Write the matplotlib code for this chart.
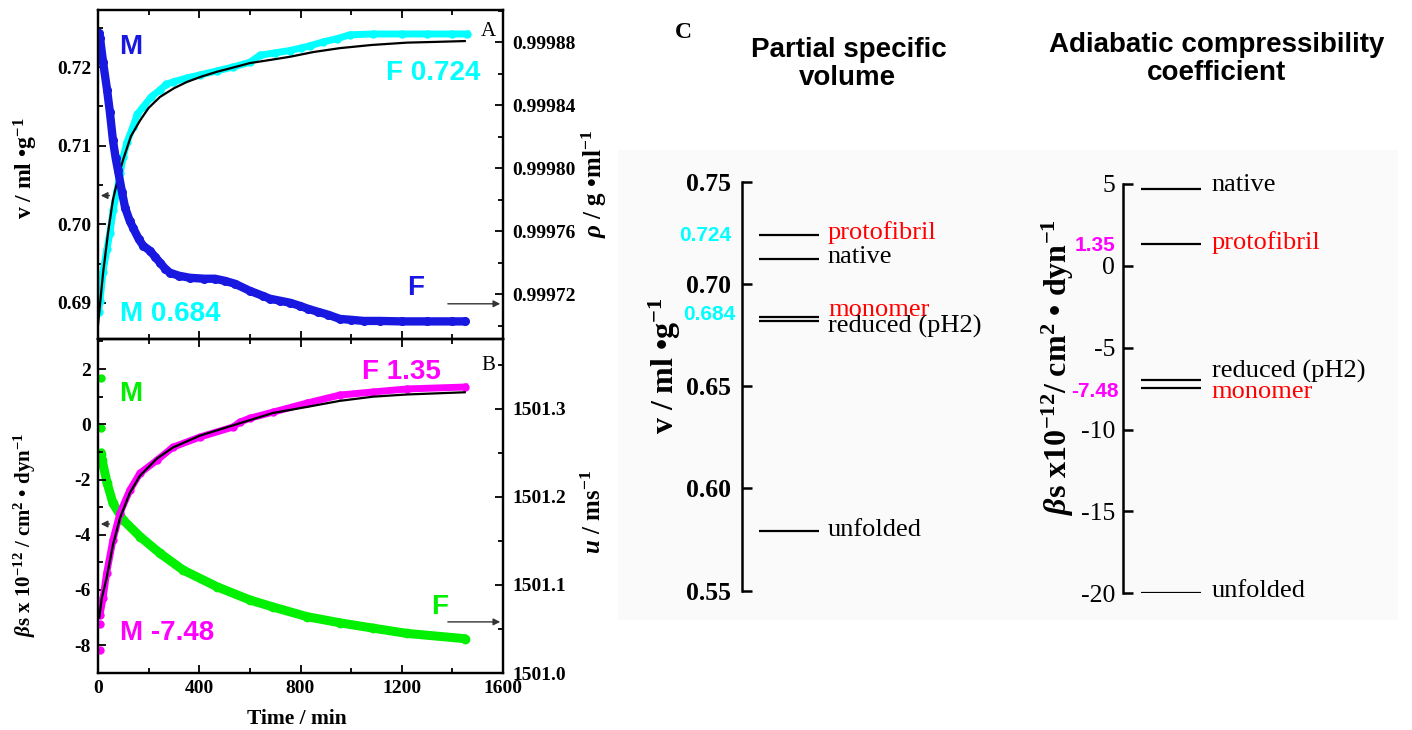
import matplotlib
matplotlib.use('Agg')
import matplotlib.pyplot as plt
from matplotlib.ticker import MultipleLocator, FormatStrFormatter
from matplotlib.patches import Rectangle

# ---- panel A: partial specific volume (left) and density (right) vs time ----
t_dens = [3, 8, 20, 36, 47, 59, 70, 79, 95, 107, 125, 138, 160, 178, 205, 225, 245, 265,
          284, 320, 363, 420, 462, 500, 541, 600, 650, 679, 720, 760, 797, 830, 869, 910,
          955, 1000, 1050, 1113, 1200, 1300, 1400, 1449]
dens = [0.9998857, 0.9998825, 0.9998673, 0.9998494, 0.9998354, 0.9998176, 0.9998061,
        0.9997985, 0.9997845, 0.9997749, 0.9997666, 0.9997622, 0.9997552, 0.9997507,
        0.9997475, 0.9997437, 0.9997399, 0.9997361, 0.9997335, 0.9997316, 0.9997303,
        0.9997297, 0.9997297, 0.9997284, 0.9997265, 0.9997220, 0.9997189, 0.9997170,
        0.9997157, 0.9997144, 0.9997125, 0.9997106, 0.9997087, 0.9997068, 0.9997042,
        0.9997036, 0.9997029, 0.9997029, 0.9997026, 0.9997026, 0.9997026, 0.9997026]

t_vol = [2, 8, 20, 35, 47, 60, 75, 88, 99, 115, 138, 155, 178, 210, 245, 270, 296, 350,
         403, 470, 533, 600, 640, 700, 758, 800, 837, 890, 944, 995, 1086, 1200, 1300,
         1400, 1457]
vol = [0.6888, 0.6903, 0.6940, 0.6968, 0.6989, 0.7018, 0.7043, 0.7065, 0.7085, 0.7105,
       0.7124, 0.7140, 0.7149, 0.7162, 0.7171, 0.7178, 0.7181, 0.7186, 0.7190, 0.7195,
       0.7200, 0.7206, 0.7215, 0.7218, 0.7221, 0.7224, 0.7227, 0.7232, 0.7236, 0.7241,
       0.7242, 0.7242, 0.7242, 0.7242, 0.7242]

t_vol_fit = [0, 10, 20, 40, 59, 80, 99, 130, 166, 200, 245, 300, 351, 410, 470, 530, 600,
             680, 758, 850, 955, 1080, 1220, 1340, 1449]
vol_fit = [0.6872, 0.6905, 0.6938, 0.6990, 0.7031, 0.7060, 0.7082, 0.7112, 0.7132, 0.7148,
           0.7162, 0.7173, 0.7181, 0.7188, 0.7194, 0.7199, 0.7205, 0.7209, 0.7213, 0.7219,
           0.7224, 0.7228, 0.7231, 0.7232, 0.7233]

# ---- panel B: compressibility (left) and sound velocity (right) vs time ----
t_beta = [8, 20, 34, 59, 87, 126, 166, 233, 296, 403, 533, 561, 600, 691, 826, 956, 1086,
          1220, 1449]
beta = [-6.9, -6.3, -5.39, -4.19, -3.21, -2.38, -1.77, -1.30, -0.83, -0.46, -0.10, 0.08,
        0.22, 0.44, 0.77, 1.06, 1.17, 1.28, 1.35]
t_beta_out = [8, 8]
beta_out = [-7.22, -8.19]

t_beta_fit = [5, 15, 34, 59, 87, 126, 166, 233, 296, 403, 561, 691, 826, 956, 1086, 1220, 1449]
beta_fit = [-7.0, -6.3, -5.57, -4.37, -3.39, -2.48, -1.86, -1.24, -0.84, -0.41, 0.04, 0.41,
            0.63, 0.85, 1.00, 1.08, 1.16]

t_u = [10, 16, 36, 59, 99, 166, 245, 336, 470, 600, 691, 826, 956, 1086, 1220, 1449]
u = [1501.249, 1501.242, 1501.216, 1501.193, 1501.174, 1501.155, 1501.136, 1501.117,
     1501.098, 1501.083, 1501.075, 1501.064, 1501.057, 1501.051, 1501.045, 1501.039]
t_u_out = [10, 10, 10]
u_out = [1501.335, 1501.278, 1501.251]

# ---- panel C: level diagrams ----
vol_states = ['protofibril', 'native', 'monomer', 'reduced (pH2)', 'unfolded']
vol_levels = [0.724, 0.712, 0.684, 0.682, 0.579]
vol_colors = ['red', 'black', 'red', 'black', 'black']

comp_states = ['native', 'protofibril', 'reduced (pH2)', 'monomer', 'unfolded']
comp_levels = [4.7, 1.35, -6.97, -7.48, -20.0]
comp_colors = ['black', 'red', 'black', 'red', 'black']

plt.rcParams['font.family'] = ['Liberation Serif', 'DejaVu Serif']
plt.rcParams['font.weight'] = 'bold'
plt.rcParams['mathtext.fontset'] = 'custom'
plt.rcParams['mathtext.rm'] = 'Liberation Serif:bold'
plt.rcParams['mathtext.it'] = 'Liberation Serif:italic:bold'
plt.rcParams['mathtext.bf'] = 'Liberation Serif:bold'
plt.rcParams['axes.unicode_minus'] = False

W, H = 1412, 730
BLUE, CYAN, MAG, GREEN = '#1818e0', '#00ffff', '#ff00ff', '#00f000'
SANS = 'Liberation Sans'


def box(l, t, r, b):
    return [l / W, 1 - b / H, (r - l) / W, (b - t) / H]


def fig_xy(px, py):
    return px / W, 1 - py / H


fig = plt.figure(figsize=(W / 100, H / 100), dpi=100)

# faint grey backdrop behind panel C
fig.add_artist(Rectangle(fig_xy(618, 620), 780 / W, 470 / H, transform=fig.transFigure,
                         facecolor='#fafafa', edgecolor='none', zorder=-5))


def style_ts(ax, right=False):
    for s in ax.spines.values():
        s.set_linewidth(1.6)
    ax.tick_params(which='both', direction='in', top=True, labelsize=14, width=1.3)
    ax.tick_params(which='major', length=6, pad=5 if not right else 7)
    ax.tick_params(which='minor', length=3.5)
    ax.set_xlim(0, 1600)
    ax.xaxis.set_major_locator(MultipleLocator(400))
    ax.xaxis.set_minor_locator(MultipleLocator(200))


ax_a = fig.add_axes(box(98, 10, 503, 339))
ax_a2 = ax_a.twinx()
ax_b = fig.add_axes(box(98, 339, 503, 673))
ax_b2 = ax_b.twinx()
for ax in (ax_a, ax_b):
    style_ts(ax)
for ax in (ax_a2, ax_b2):
    style_ts(ax, right=True)

# panel A
ax_a.plot(t_vol, vol, '-o', color=CYAN, lw=5, ms=5, zorder=2)
ax_a.plot(t_vol_fit, vol_fit, color='black', lw=1.6, zorder=3)
ax_a2.plot(t_dens, dens, '-o', color=BLUE, lw=6, ms=5.5, solid_capstyle='round')
ax_a.set_ylim(0.68542, 0.72725)
ax_a.yaxis.set_major_locator(MultipleLocator(0.01))
ax_a.yaxis.set_minor_locator(MultipleLocator(0.005))
ax_a.yaxis.set_major_formatter(FormatStrFormatter('%.2f'))
ax_a2.set_ylim(0.99969143, 0.99990032)
ax_a2.yaxis.set_major_locator(MultipleLocator(0.00004))
ax_a2.yaxis.set_minor_locator(MultipleLocator(0.00002))
ax_a2.yaxis.set_major_formatter(FormatStrFormatter('%.5f'))
ax_a.tick_params(labelbottom=False)

# panel B (fit and magenta above green)
ax_b2.plot(t_u, u, '-o', color=GREEN, lw=6.5, ms=6, solid_capstyle='round')
ax_b2.plot(t_u_out, u_out, 'o', color=GREEN, ms=5)
ax_b.set_zorder(ax_b2.get_zorder() + 1)
ax_b.patch.set_visible(False)
ax_b.plot(t_beta, beta, '-o', color=MAG, lw=5, ms=5)
ax_b.plot(t_beta_out, beta_out, 'o', color=MAG, ms=5)
ax_b.plot(t_beta_fit, beta_fit, color='black', lw=1.6)
ax_b.set_ylim(-9.01, 3.09)
ax_b.yaxis.set_major_locator(MultipleLocator(2))
ax_b.yaxis.set_minor_locator(MultipleLocator(1))
ax_b.yaxis.set_major_formatter(FormatStrFormatter('%d'))
ax_b2.set_ylim(1501.0, 1501.3795)
ax_b2.yaxis.set_major_locator(MultipleLocator(0.1))
ax_b2.yaxis.set_minor_locator(MultipleLocator(0.05))
ax_b2.yaxis.set_major_formatter(FormatStrFormatter('%.1f'))

# annotations A / B
big = dict(fontfamily=SANS, fontweight='bold', fontsize=20)
ax_a.text(0.081, 0.887, 'M', color=BLUE, ha='center', va='center', transform=ax_a.transAxes, **big)
ax_a.text(0.054, 0.076, 'M 0.684', color=CYAN, ha='left', va='center', transform=ax_a.transAxes, **big)
ax_a.text(0.827, 0.808, 'F 0.724', color=CYAN, ha='center', va='center', transform=ax_a.transAxes, **big)
ax_a.text(0.785, 0.155, 'F', color=BLUE, ha='center', va='center', transform=ax_a.transAxes, **big)
ax_a.text(0.963, 0.936, 'A', fontsize=15, fontweight='normal', ha='center', va='center',
          transform=ax_a.transAxes)
ax_b.text(0.081, 0.835, 'M', color=GREEN, ha='center', va='center', transform=ax_b.transAxes, **big)
ax_b.text(0.054, 0.120, 'M -7.48', color=MAG, ha='left', va='center', transform=ax_b.transAxes, **big)
ax_b.text(0.748, 0.901, 'F 1.35', color=MAG, ha='center', va='center', transform=ax_b.transAxes, **big)
ax_b.text(0.844, 0.198, 'F', color=GREEN, ha='center', va='center', transform=ax_b.transAxes, **big)
ax_b.text(0.963, 0.922, 'B', fontsize=15, fontweight='normal', ha='center', va='center',
          transform=ax_b.transAxes)

arrow = dict(arrowstyle='-|>', color='#333333', lw=1.0, mutation_scale=10)
ax_a2.annotate('', xy=(1.0, 0.107), xytext=(0.857, 0.107), xycoords='axes fraction', arrowprops=arrow)
ax_a2.annotate('', xy=(0.0, 0.436), xytext=(0.035, 0.436), xycoords='axes fraction', arrowprops=arrow)
ax_b.annotate('', xy=(1.0, 0.153), xytext=(0.857, 0.153), xycoords='axes fraction', arrowprops=arrow)
ax_b.annotate('', xy=(0.0, 0.446), xytext=(0.035, 0.446), xycoords='axes fraction', arrowprops=arrow)

fig.text(*fig_xy(26, 168), r'v / ml •g$^{-1}$', rotation=90, ha='center', va='center', fontsize=17)
fig.text(*fig_xy(594, 184), r'$\rho$ / g •ml$^{-1}$', rotation=90, ha='center', va='center', fontsize=18)
fig.text(*fig_xy(25, 535), r'$\beta$s x 10$^{-12}$ / cm$^{2}$ • dyn$^{-1}$', rotation=90,
         ha='center', va='center', fontsize=15)
fig.text(*fig_xy(594, 512), r'$u$ / ms$^{-1}$', rotation=90, ha='center', va='center', fontsize=18)
fig.text(*fig_xy(297, 719), 'Time / min', ha='center', va='center', fontsize=15.5)


# ---- panel C ----
def style_level(ax, lo, hi, step, fmt, pad):
    for side in ('top', 'right', 'bottom'):
        ax.spines[side].set_visible(False)
    ax.spines['left'].set_linewidth(1.8)
    ax.patch.set_visible(False)
    ax.set_xlim(0, 1)
    ax.set_ylim(lo, hi)
    ax.xaxis.set_visible(False)
    ax.yaxis.set_major_locator(MultipleLocator(step))
    ax.yaxis.set_major_formatter(FormatStrFormatter(fmt))
    ax.tick_params(axis='y', direction='in', length=7, width=1.8, labelsize=18.5, pad=pad)


ax_c1 = fig.add_axes(box(742, 181.7, 1000, 590.7))
ax_c2 = fig.add_axes(box(1123.3, 184, 1400, 593.3))
style_level(ax_c1, 0.55, 0.75, 0.05, '%.2f', 8)
style_level(ax_c2, -20, 5, 5, '%d', 6)
for lab in ax_c2.get_yticklabels():
    lab.set_fontweight('normal')

px = 0.72  # points per pixel
vol_dy = [2, 2, 6.7, -6, 1]
comp_dy = [3.7, 1.6, 9, -4, 2.3]
ax_c1.hlines(vol_levels, 0.066, 0.298, color='black', lw=1.6)
ax_c2.hlines(comp_levels, 0.064, 0.281, color='black', lw=1.6)
for name, val, col, dy in zip(vol_states, vol_levels, vol_colors, vol_dy):
    ax_c1.annotate(name, (0.333, val), xytext=(0, dy * px), textcoords='offset points',
                   color=col, fontsize=19, fontweight='normal', va='center', ha='left')
for name, val, col, dy in zip(comp_states, comp_levels, comp_colors, comp_dy):
    ax_c2.annotate(name, (0.3195, val), xytext=(0, dy * px), textcoords='offset points',
                   color=col, fontsize=19, fontweight='normal', va='center', ha='left')

small = dict(fontfamily=SANS, fontweight='bold', fontsize=15, ha='right', va='center',
             textcoords='offset points')
ax_c1.annotate('0.724', (0, vol_levels[0]), xytext=(-11 * px, -1 * px), color=CYAN, **small)
ax_c1.annotate('0.684', (0, vol_levels[2]), xytext=(-7 * px, 1.7 * px), color=CYAN, **small)
ax_c2.annotate('1.35', (0, comp_levels[1]), xytext=(-8.3 * px, -1.7 * px), color=MAG, **small)
ax_c2.annotate('-7.48', (0, comp_levels[3]), xytext=(-4.3 * px, -3 * px), color=MAG, **small)

fig.text(*fig_xy(665, 366), r'v / ml •g$^{-1}$', rotation=90, ha='center', va='center', fontsize=23)
fig.text(*fig_xy(1058, 367), r'$\beta$s x10$^{-12}$/ cm$^{2}$ • dyn$^{-1}$', rotation=90,
         ha='center', va='center', fontsize=23)

fig.text(*fig_xy(683, 32), 'C', ha='center', va='center', fontsize=17)
title = dict(fontfamily=SANS, fontweight='bold', fontsize=20, ha='center', va='center')
fig.text(*fig_xy(849, 50), 'Partial specific', **title)
fig.text(*fig_xy(847, 78), 'volume', **title)
fig.text(*fig_xy(1217, 45), 'Adiabatic compressibility', **title)
fig.text(*fig_xy(1216, 73), 'coefficient', **title)

fig.savefig('out.png', dpi=100)
